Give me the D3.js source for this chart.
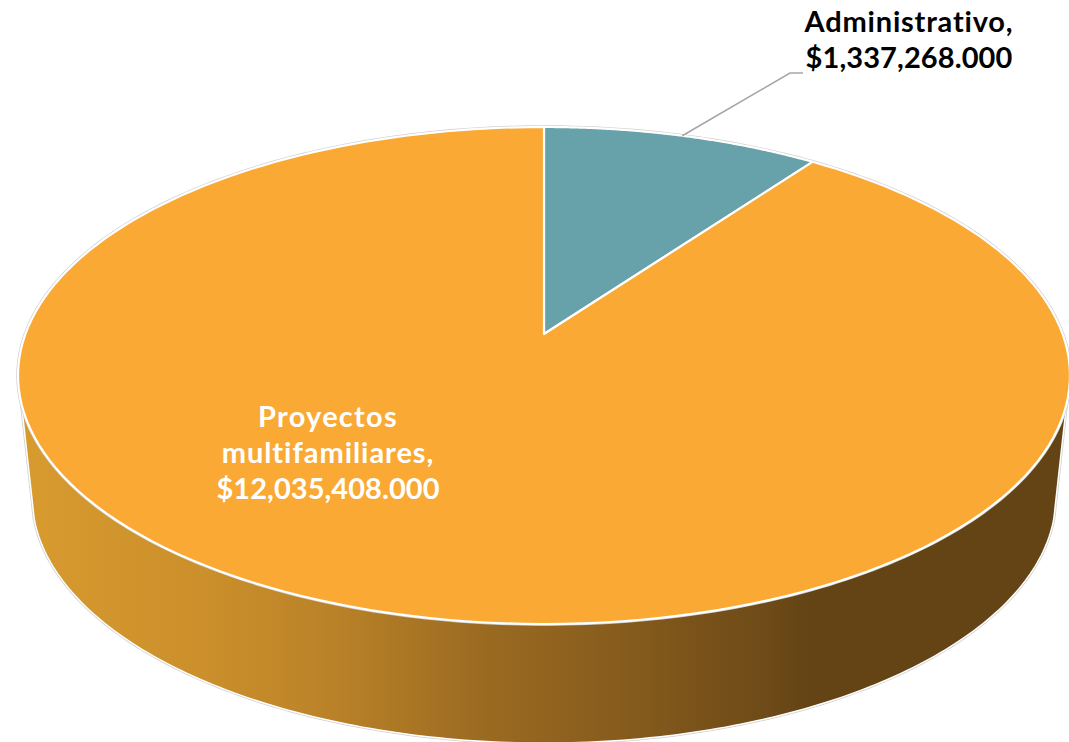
<!DOCTYPE html>
<html>
<head>
<meta charset="utf-8">
<script src="https://cdn.jsdelivr.net/npm/d3@7/dist/d3.min.js"></script>
<style>
  html, body { margin: 0; padding: 0; background: #fff; overflow: hidden; }
  text { font-family: Lato, "Noto Sans", sans-serif; font-weight: 700; text-anchor: middle; }
</style>
</head>
<body>
<svg id="chart" width="1069" height="742"></svg>
<script>
// Budget split
const categories = ["Administrativo", "Proyectos multifamiliares"];
const values = [1337268, 12035408];
const labelLines = [
  ["Administrativo,", "$1,337,268.000"],
  ["Proyectos", "multifamiliares,", "$12,035,408.000"]
];
const sliceColors = ["#67A1A9", "#F9A934"];
const labelColors = ["#000000", "#FFFFFF"];
const wallStops = [
  [0, "#D89B2F"], [0.18, "#CB8F2B"], [0.3, "#BA8228"], [0.45, "#9A6A21"],
  [0.6, "#83591C"], [0.72, "#6D4A17"], [0.76, "#644415"], [1, "#644415"]
];

const svg = d3.select("#chart");

// Perspective view of a tilted disc: angle 0 is the far edge, turning clockwise.
const apex = { x: 544, y: 334 };
const persp = 0.167, spanX = 518.6, spanY = 241.6;
const lowerScaleX = 0.973, lowerScaleY = 0.99, lowerDrop = 122;

function project(angle, scaleX = 1, scaleY = 1, drop = 0) {
  const w = 1 + persp * Math.cos(angle);
  return [
    apex.x + scaleX * spanX * Math.sin(angle) / w,
    apex.y + drop - scaleY * spanY * Math.cos(angle) / w
  ];
}

const rad = d3.scaleLinear().domain([0, 360]).range([0, 2 * Math.PI]);
const sweep = (from, to, n = 180) => d3.range(n + 1).map(i => rad(from + (to - from) * i / n));
const outline = d3.line();

const arcs = d3.pie().sort(null).value(d => d)(values);

// Horizontal shading of the side wall
const grad = svg.append("defs").append("linearGradient")
  .attr("id", "wallShade").attr("gradientUnits", "userSpaceOnUse")
  .attr("x1", 20).attr("x2", 1060).attr("y1", 0).attr("y2", 0);
grad.selectAll("stop").data(wallStops).join("stop")
  .attr("offset", d => d[0]).attr("stop-color", d => d[1]);

// Side wall: near part of the top rim, then back along the lower rim
const wallPts = sweep(106, 254).map(a => project(a))
  .concat(sweep(255.5, 104.5).map(a => project(a, lowerScaleX, lowerScaleY, lowerDrop)));

svg.append("path").attr("d", outline(wallPts) + "Z")
  .attr("fill", "none").attr("stroke", "#cfcfcf").attr("stroke-width", 3);
svg.append("path").attr("d", outline(wallPts) + "Z")
  .attr("fill", "url(#wallShade)").attr("stroke", "#fff").attr("stroke-width", 1.5);

// Faint edge around the top face
svg.append("path").attr("d", outline(sweep(0, 360, 360).map(a => project(a))) + "Z")
  .attr("fill", "none").attr("stroke", "#cfcfcf").attr("stroke-width", 3.5);

// Top face wedges
svg.selectAll("path.slice").data(arcs).join("path")
  .attr("class", "slice")
  .attr("d", d => {
    const deg = sweep(d.startAngle * 180 / Math.PI, d.endAngle * 180 / Math.PI);
    return outline([[apex.x, apex.y]].concat(deg.map(a => project(a)))) + "Z";
  })
  .attr("fill", (d, i) => sliceColors[i])
  .attr("stroke", "#fff").attr("stroke-width", 2.2).attr("stroke-linejoin", "round");

// Leader from the small wedge to its label
const mid = (arcs[0].startAngle + arcs[0].endAngle) / 2;
const rimPt = project(mid);
svg.append("path")
  .attr("d", outline([rimPt, [790, 73], [803, 73]]))
  .attr("fill", "none").attr("stroke", "#A6A6A6").attr("stroke-width", 1.6);

// Data labels, tracked line by line
const labelAnchors = [
  { x: 909, y: 32, spacing: [0.8, 0.1] },
  { x: 328, y: 427, spacing: [1.25, 0.95, 0.05] }
];
labelLines.forEach((lines, i) => {
  svg.append("g").selectAll("text").data(lines).join("text")
    .attr("x", labelAnchors[i].x)
    .attr("y", (d, j) => labelAnchors[i].y + j * 36)
    .attr("font-size", 29)
    .attr("letter-spacing", (d, j) => labelAnchors[i].spacing[j])
    .attr("fill", labelColors[i])
    .text(d => d);
});
</script>
</body>
</html>
